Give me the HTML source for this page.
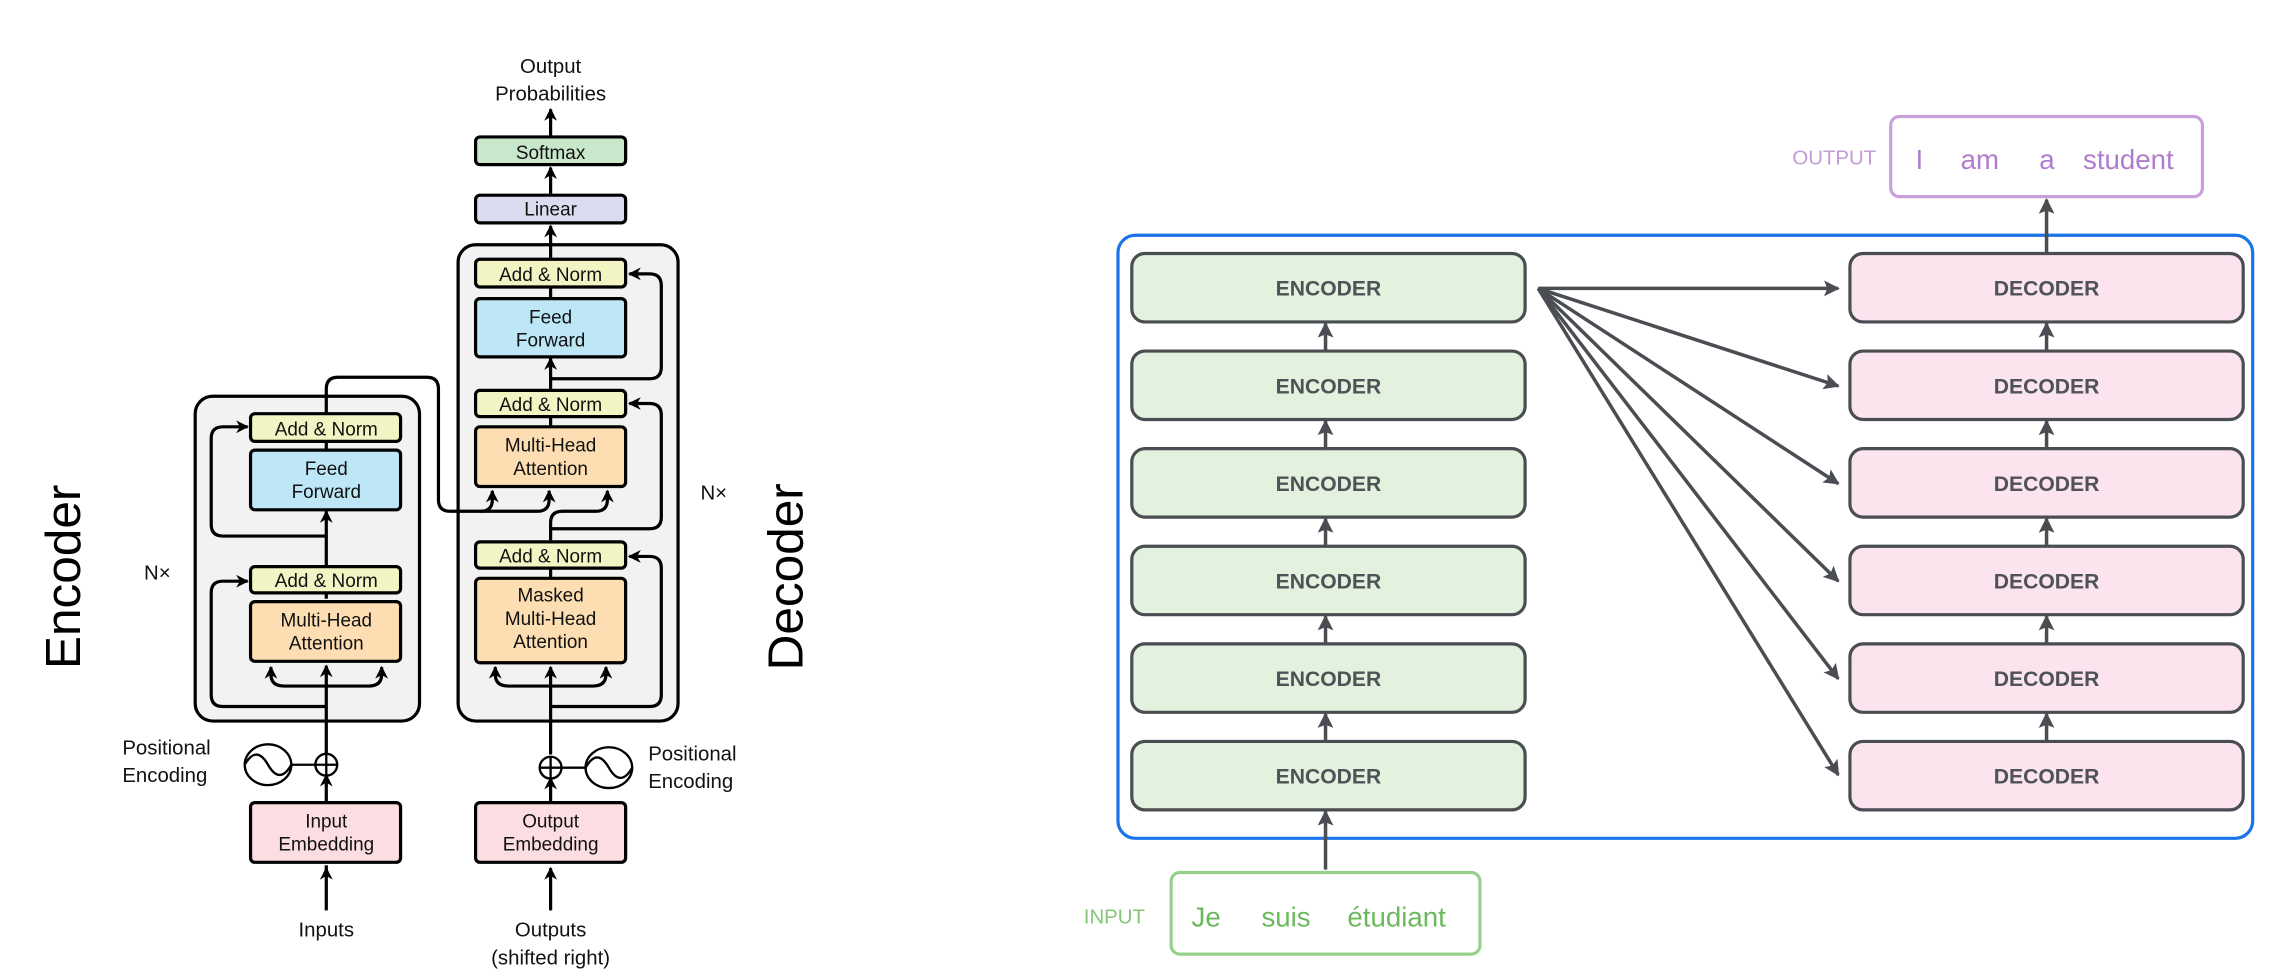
<!DOCTYPE html>
<html><head><meta charset="utf-8"><style>html,body{margin:0;padding:0;background:#fff}svg{display:block}</style></head>
<body>
<svg width="2284" height="978" viewBox="0 0 1568 671.4" xmlns="http://www.w3.org/2000/svg" font-family="Liberation Sans, sans-serif">
<defs>
<marker id="a" viewBox="0 0 10 10" refX="9" refY="5" markerWidth="4" markerHeight="4" orient="auto"><path d="M0,0 L10,5 L0,10 L3,5z" fill="#000"/></marker>
<marker id="g" viewBox="0 0 10 10" refX="9" refY="5" markerWidth="4.5" markerHeight="4.5" orient="auto"><path d="M0,0 L10,5 L0,10 L2,5z" fill="#4a4d52"/></marker>
</defs>
<!-- LEFT: transformer -->
<g stroke="#000" stroke-width="2.2">
<rect x="134" y="272" width="154" height="223" rx="12" fill="#f2f2f2"/>
<rect x="314.5" y="168" width="151" height="327" rx="12" fill="#f2f2f2"/>
</g>
<g fill="none" stroke="#000" stroke-width="2.2">
<!-- encoder main line -->
<line x1="224" y1="597" x2="224" y2="594" />
<path d="M224,625 L224,596" marker-end="url(#a)"/>
<path d="M224,551 L224,532" marker-end="url(#a)"/>
<path d="M224,517 L224,457" marker-end="url(#a)"/>
<path d="M224,407 L224,411"/>
<path d="M224,388 L224,351" marker-end="url(#a)"/>
<path d="M224,303 L224,308"/>
<path d="M224,471 L195,471 Q186,471 186,463 L186,458" marker-end="url(#a)"/>
<path d="M224,471 L253,471 Q262,471 262,463 L262,458" marker-end="url(#a)"/>
<path d="M224,485 L153,485 Q145,485 145,477 L145,407 Q145,399 153,399 L170,399" marker-end="url(#a)"/>
<path d="M224,368 L153,368 Q145,368 145,360 L145,301 Q145,293 153,293 L170,293" marker-end="url(#a)"/>
<!-- encoder to decoder -->
<path d="M224,284 L224,267 Q224,259 232,259 L293,259 Q301,259 301,267 L301,343 Q301,351 309,351 L330,351 Q338,351 338,343 L338,337" marker-end="url(#a)"/>
<path d="M330,351 L369,351 Q377,351 377,343 L377,337" marker-end="url(#a)"/>
<!-- decoder main -->
<path d="M378,625 L378,596" marker-end="url(#a)"/>
<path d="M378,551 L378,534" marker-end="url(#a)"/>
<path d="M378,518 L378,458" marker-end="url(#a)"/>
<path d="M378,471 L349,471 Q340,471 340,463 L340,458" marker-end="url(#a)"/>
<path d="M378,471 L407,471 Q416,471 416,463 L416,458" marker-end="url(#a)"/>
<path d="M378,485 L446,485 Q454,485 454,477 L454,390 Q454,382 446,382 L432,382" marker-end="url(#a)"/>
<path d="M378,390 L378,397"/>
<path d="M378,371 L378,359 Q378,351 386,351 L409,351 Q417,351 417,343 L417,337" marker-end="url(#a)"/>
<path d="M378,363 L446,363 Q454,363 454,355 L454,285 Q454,277 446,277 L432,277" marker-end="url(#a)"/>
<path d="M378,286 L378,293"/>
<path d="M378,267 L378,246" marker-end="url(#a)"/>
<path d="M378,260 L446,260 Q454,260 454,252 L454,196 Q454,188 446,188 L432,188" marker-end="url(#a)"/>
<path d="M378,197 L378,205"/>
<path d="M378,178 L378,155" marker-end="url(#a)"/>
<path d="M378,133 L378,115" marker-end="url(#a)"/>
<path d="M378,94 L378,75" marker-end="url(#a)"/>
</g>
<g stroke="#000" stroke-width="2.2">
<rect x="326.5" y="94" width="103" height="19" rx="3" fill="#c9e7cb"/>
<rect x="326.5" y="134" width="103" height="19" rx="3" fill="#dcdcf0"/>
<rect x="326.5" y="178" width="103" height="19" rx="3" fill="#f2f5c3"/>
<rect x="326.5" y="205" width="103" height="40" rx="3" fill="#bde7f6"/>
<rect x="326.5" y="268" width="103" height="18" rx="3" fill="#f2f5c3"/>
<rect x="326.5" y="293" width="103" height="41" rx="3" fill="#fddeb2"/>
<rect x="326.5" y="372" width="103" height="18" rx="3" fill="#f2f5c3"/>
<rect x="326.5" y="397" width="103" height="58" rx="3" fill="#fddeb2"/>
<rect x="326.5" y="551" width="103" height="41" rx="3" fill="#fcdde1"/>
<rect x="172" y="284" width="103" height="19" rx="3" fill="#f2f5c3"/>
<rect x="172" y="309" width="103" height="41" rx="3" fill="#bde7f6"/>
<rect x="172" y="389" width="103" height="18" rx="3" fill="#f2f5c3"/>
<rect x="172" y="413" width="103" height="41" rx="3" fill="#fddeb2"/>
<rect x="172" y="551" width="103" height="41" rx="3" fill="#fcdde1"/>
</g>
<!-- positional encodings -->
<g fill="none" stroke="#000" stroke-width="1.6">
<circle cx="224" cy="525" r="7.5" fill="#fff"/><path d="M216.5,525h15M224,517.5v15"/>
<ellipse cx="184" cy="525" rx="16" ry="14"/><path d="M168,525 q8,-14 16,0 q8,14 16,0"/><path d="M200,525h16.5"/>
<circle cx="378" cy="527" r="7.5" fill="#fff"/><path d="M370.5,527h15M378,519.5v15"/>
<ellipse cx="418" cy="527" rx="16" ry="14"/><path d="M402,527 q8,-14 16,0 q8,14 16,0"/><path d="M385.5,527h16.5"/>
</g>
<g font-size="14" fill="#111" text-anchor="middle">
<text x="378" y="50">Output</text><text x="378" y="69">Probabilities</text>
<text x="378" y="109" font-size="13">Softmax</text>
<text x="378" y="148" font-size="13">Linear</text>
<text x="378" y="193" font-size="13">Add &amp; Norm</text>
<text x="378" y="222" font-size="13">Feed</text><text x="378" y="238" font-size="13">Forward</text>
<text x="378" y="282" font-size="13">Add &amp; Norm</text>
<text x="378" y="310" font-size="13">Multi-Head</text><text x="378" y="326" font-size="13">Attention</text>
<text x="378" y="386" font-size="13">Add &amp; Norm</text>
<text x="378" y="413" font-size="13">Masked</text><text x="378" y="429" font-size="13">Multi-Head</text><text x="378" y="445" font-size="13">Attention</text>
<text x="378" y="568" font-size="13">Output</text><text x="378" y="584" font-size="13">Embedding</text>
<text x="224" y="299" font-size="13">Add &amp; Norm</text>
<text x="224" y="326" font-size="13">Feed</text><text x="224" y="342" font-size="13">Forward</text>
<text x="224" y="403" font-size="13">Add &amp; Norm</text>
<text x="224" y="430" font-size="13">Multi-Head</text><text x="224" y="446" font-size="13">Attention</text>
<text x="224" y="568" font-size="13">Input</text><text x="224" y="584" font-size="13">Embedding</text>
<text x="224" y="643">Inputs</text>
<text x="378" y="643">Outputs</text><text x="378" y="662">(shifted right)</text>
<text x="108" y="398">N×</text><text x="490" y="343">N×</text>
</g>
<g font-size="14" fill="#111">
<text x="84" y="518">Positional</text><text x="84" y="537">Encoding</text>
<text x="445" y="522">Positional</text><text x="445" y="541">Encoding</text>
</g>
<text transform="translate(55,396) rotate(-90)" font-size="34" text-anchor="middle" fill="#000">Encoder</text>
<text transform="translate(551,396) rotate(-90)" font-size="34" text-anchor="middle" fill="#000">Decoder</text>

<!-- RIGHT -->
<rect x="767.5" y="161.5" width="779" height="414" rx="12" fill="none" stroke="#1a73e8" stroke-width="2.2"/>
<g stroke="#4a4d52" stroke-width="2.2">
<g fill="#e2f2de">
<rect x="777" y="174" width="270" height="47" rx="9"/>
<rect x="777" y="241" width="270" height="47" rx="9"/>
<rect x="777" y="308" width="270" height="47" rx="9"/>
<rect x="777" y="375" width="270" height="47" rx="9"/>
<rect x="777" y="442" width="270" height="47" rx="9"/>
<rect x="777" y="509" width="270" height="47" rx="9"/>
</g>
<g fill="#fce4ee">
<rect x="1270" y="174" width="270" height="47" rx="9"/>
<rect x="1270" y="241" width="270" height="47" rx="9"/>
<rect x="1270" y="308" width="270" height="47" rx="9"/>
<rect x="1270" y="375" width="270" height="47" rx="9"/>
<rect x="1270" y="442" width="270" height="47" rx="9"/>
<rect x="1270" y="509" width="270" height="47" rx="9"/>
</g>
</g>
<g stroke="#4a4d52" stroke-width="2.4" fill="none">
<path d="M910,241 V222" marker-end="url(#g)"/>
<path d="M910,308 V289" marker-end="url(#g)"/>
<path d="M910,375 V356" marker-end="url(#g)"/>
<path d="M910,442 V423" marker-end="url(#g)"/>
<path d="M910,509 V490" marker-end="url(#g)"/>
<path d="M910,597 V557" marker-end="url(#g)"/>
<path d="M1405,241 V222" marker-end="url(#g)"/>
<path d="M1405,308 V289" marker-end="url(#g)"/>
<path d="M1405,375 V356" marker-end="url(#g)"/>
<path d="M1405,442 V423" marker-end="url(#g)"/>
<path d="M1405,509 V490" marker-end="url(#g)"/>
<path d="M1405,174 V137" marker-end="url(#g)"/>
<path d="M1056,198 L1262,198" marker-end="url(#g)"/>
<path d="M1056,198 L1262,265" marker-end="url(#g)"/>
<path d="M1056,198 L1262,332" marker-end="url(#g)"/>
<path d="M1056,198 L1262,399" marker-end="url(#g)"/>
<path d="M1056,198 L1262,466" marker-end="url(#g)"/>
<path d="M1056,198 L1262,532" marker-end="url(#g)"/>
</g>
<g font-size="14.5" font-weight="bold" fill="#4f5256" text-anchor="middle">
<text x="912" y="203">ENCODER</text><text x="912" y="270">ENCODER</text><text x="912" y="337">ENCODER</text>
<text x="912" y="404">ENCODER</text><text x="912" y="471">ENCODER</text><text x="912" y="538">ENCODER</text>
<text x="1405" y="203">DECODER</text><text x="1405" y="270">DECODER</text><text x="1405" y="337">DECODER</text>
<text x="1405" y="404">DECODER</text><text x="1405" y="471">DECODER</text><text x="1405" y="538">DECODER</text>
</g>
<rect x="1298" y="80" width="214" height="55" rx="6" fill="#fff" stroke="#c9a0da" stroke-width="2.2"/>
<text x="1288" y="113" font-size="14" fill="#c29bd6" text-anchor="end">OUTPUT</text>
<g font-size="19" fill="#b07ccc"><text x="1315" y="116">I</text><text x="1346" y="116">am</text><text x="1400" y="116">a</text><text x="1430" y="116">student</text></g>
<rect x="804" y="599" width="212" height="56" rx="6" fill="#fff" stroke="#96d08c" stroke-width="2.2"/>
<text x="786" y="634" font-size="14" fill="#86c57a" text-anchor="end">INPUT</text>
<g font-size="19" fill="#6cb85c"><text x="818" y="636">Je</text><text x="866" y="636">suis</text><text x="925" y="636">étudiant</text></g>
</svg>
</body></html>
